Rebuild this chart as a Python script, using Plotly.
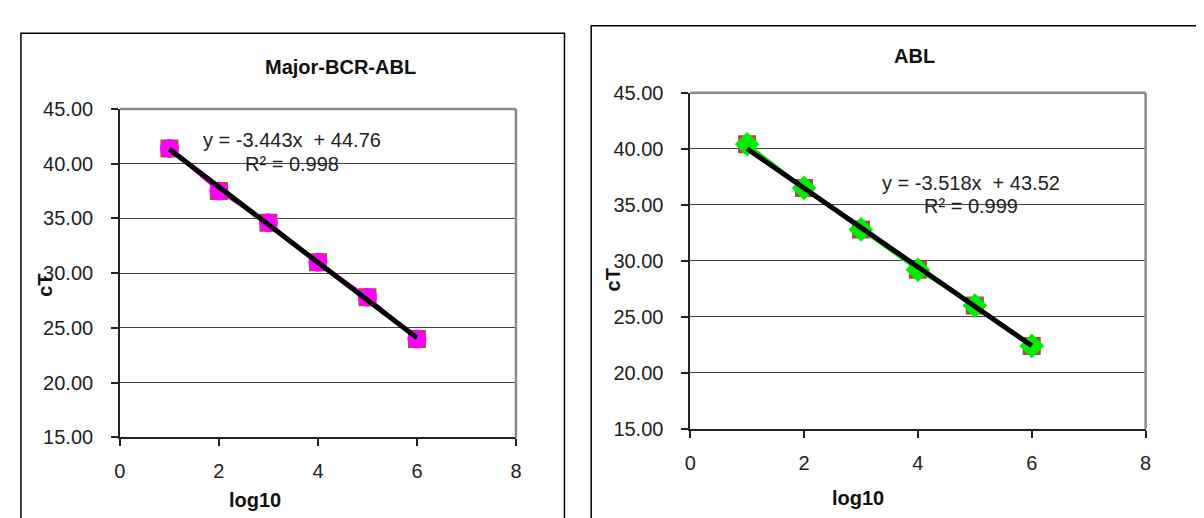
import plotly.graph_objects as go

# ---------------- data ----------------
log10_x = [1, 2, 3, 4, 5, 6]
bcr_abl_ct = [41.4, 37.5, 34.6, 31.0, 27.8, 24.0]
abl_ct = [40.4, 36.5, 32.8, 29.2, 26.0, 22.4]
bcr_fit_slope, bcr_fit_intercept, bcr_r2 = -3.443, 44.76, 0.998
abl_fit_slope, abl_fit_intercept, abl_r2 = -3.518, 43.52, 0.999
x_ticks = [0, 2, 4, 6, 8]
y_ticks = [15, 20, 25, 30, 35, 40, 45]
titles = ["Major-BCR-ABL", "ABL"]

W, H = 1204, 518
FONT = "Arial, Liberation Sans, sans-serif"

def px(x):
    return x / W

def py(y):
    return (H - y) / H

fig = go.Figure()

# plot area pixel boxes (left, top, right, bottom)
boxes = [(107, 94, 507, 437), (683, 77, 1143, 428)]

series = [
    (bcr_abl_ct, "#FF00FF", "circle", 19, bcr_fit_slope, bcr_fit_intercept, bcr_r2),
    (abl_ct, "#00EE00", "diamond", 19, abl_fit_slope, abl_fit_intercept, abl_r2),
]

for i, (ys, col, sym, size, m, b, r2) in enumerate(series):
    xa = "x" if i == 0 else "x2"
    ya = "y" if i == 0 else "y2"
    # brown squares
    fig.add_trace(go.Scatter(x=log10_x, y=ys, mode="markers", xaxis=xa, yaxis=ya,
                             marker=dict(symbol="square", size=18, color="#AD4A4A"),
                             showlegend=False, hoverinfo="skip"))
    # coloured series with line
    fig.add_trace(go.Scatter(x=log10_x, y=ys, mode="lines+markers", xaxis=xa, yaxis=ya,
                             line=dict(color=col, width=3),
                             marker=dict(symbol=sym, size=size, color=col),
                             showlegend=False))
    # trendline
    tx = [log10_x[0], log10_x[-1]]
    ty = [m * v + b for v in tx]
    fig.add_trace(go.Scatter(x=tx, y=ty, mode="lines", xaxis=xa, yaxis=ya,
                             line=dict(color="#000000", width=5),
                             showlegend=False, hoverinfo="skip"))

axis_common_x = dict(range=[0, 8], tickvals=x_ticks, ticks="outside", ticklen=7,
                     tickcolor="#222", tickwidth=1.5, showline=True, linecolor="#222",
                     linewidth=1.5, showgrid=False, zeroline=False,
                     tickfont=dict(family=FONT, size=20, color="#222"),
                     ticklabelstandoff=8)
axis_common_y = dict(range=[15, 45], tickvals=y_ticks, tickformat=".2f", ticks="outside",
                     ticklen=7, tickcolor="#222", tickwidth=1.5, showline=True,
                     linecolor="#222", linewidth=1.5, showgrid=True, gridcolor="#444",
                     gridwidth=1, zeroline=False,
                     tickfont=dict(family=FONT, size=20, color="#222"),
                     ticklabelstandoff=14)

(l1, t1, r1, b1), (l2, t2, r2_, b2) = boxes
fig.update_layout(
    width=W, height=H, margin=dict(l=0, r=0, t=0, b=0),
    paper_bgcolor="white", plot_bgcolor="white",
    xaxis=dict(domain=[px(l1), px(r1)], anchor="y", **axis_common_x),
    yaxis=dict(domain=[py(b1), py(t1)], anchor="x", **axis_common_y),
    xaxis2=dict(domain=[px(l2), px(r2_)], anchor="y2", **axis_common_x),
    yaxis2=dict(domain=[py(b2), py(t2)], anchor="x2", **axis_common_y),
)

shapes = []
# outer chart borders
shapes.append(dict(type="rect", xref="paper", yref="paper", x0=px(7), x1=px(556),
                   y0=-0.1, y1=py(15), line=dict(color="#000", width=1.5)))
shapes.append(dict(type="rect", xref="paper", yref="paper", x0=px(583), x1=1.1,
                   y0=-0.1, y1=py(7), line=dict(color="#000", width=1.5)))
# gray top/right plot borders
for xa, ya in (("x", "y"), ("x2", "y2")):
    shapes.append(dict(type="line", xref=f"{xa} domain", yref=f"{ya} domain",
                       x0=0, x1=1, y0=1, y1=1, line=dict(color="#8A8A8A", width=2.5)))
    shapes.append(dict(type="line", xref=f"{xa} domain", yref=f"{ya} domain",
                       x0=1, x1=1, y0=0, y1=1, line=dict(color="#8A8A8A", width=2.5)))
fig.update_layout(shapes=shapes)

def txt(text, x, y, xref="paper", yref="paper", bold=False, angle=0, color="#111"):
    return dict(text=f"<b>{text}</b>" if bold else text, x=x, y=y, xref=xref, yref=yref,
                xanchor="center", yanchor="middle", showarrow=False, textangle=angle,
                font=dict(family=FONT, size=20, color=color))

ann = []
ann.append(txt(titles[0], px(330), py(50), bold=True))
ann.append(txt(titles[1], px(910), py(39), bold=True))
for xx, yy in ((243, 502), (852, 500)):
    ann.append(txt("log10", px(xx), py(yy), bold=True))
for xx, yy in ((32, 278), (605, 272)):
    ann.append(txt("cT", px(xx), py(yy), bold=True, angle=-90))
eqs = [
    ("x", "y", 3.48, 42.2, 40.0, bcr_fit_slope, bcr_fit_intercept, bcr_r2),
    ("x2", "y2", 4.94, 36.9, 34.9, abl_fit_slope, abl_fit_intercept, abl_r2),
]
for xa, ya, ex, ey, ry, m, b, r2 in eqs:
    ann.append(txt(f"y = {m:.3f}x  + {b:.2f}", ex, ey, xref=xa, yref=ya, color="#222"))
    ann.append(txt(f"R² = {r2:.3f}", ex, ry, xref=xa, yref=ya, color="#222"))
fig.update_layout(annotations=ann)

fig.write_html("out.html")
